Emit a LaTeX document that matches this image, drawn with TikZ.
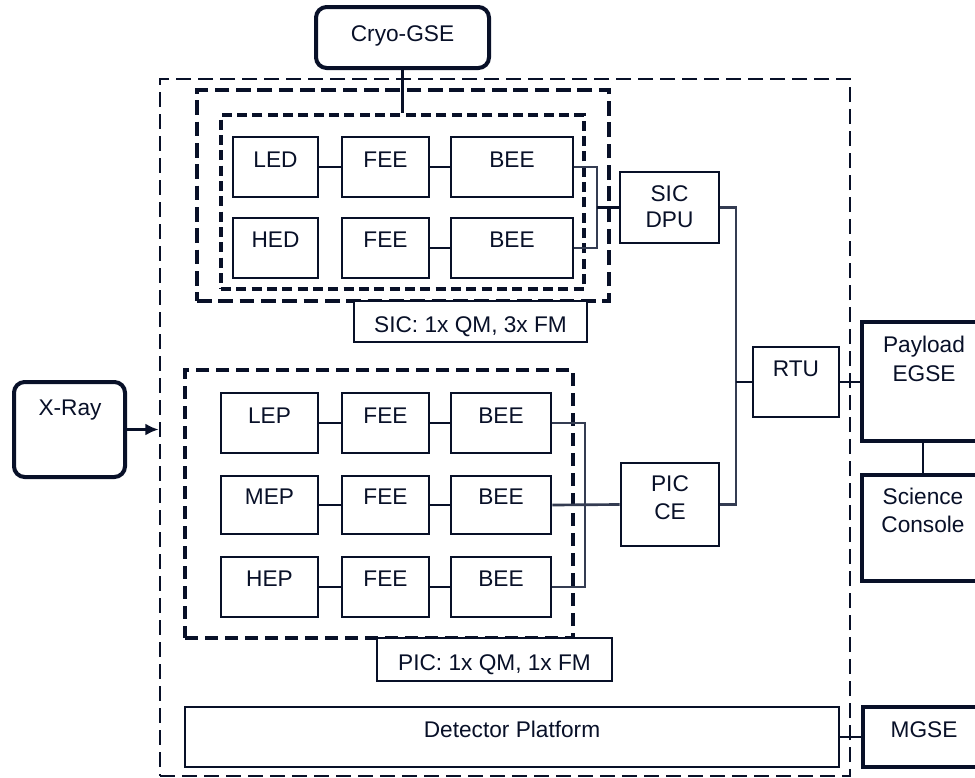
\documentclass[tikz,border=0pt]{standalone}
\usepackage{fontspec}
\setmainfont{Liberation Sans}
\usetikzlibrary{fit,arrows.meta}
\definecolor{ink}{RGB}{8,16,40}
\definecolor{wire}{RGB}{52,60,82}
\begin{document}
\begin{tikzpicture}[x=0.75pt,y=-0.75pt,
  box/.style={draw=ink, line width=2pt, inner sep=0pt, fit={#1}},
  gse/.style={draw=ink, line width=3.6pt, inner sep=0pt, fit={#1}},
  rgse/.style={draw=ink, line width=3pt, inner sep=0pt, rounded corners=8pt, fit={#1}},
  dbox/.style={draw=ink, line width=2pt, dash pattern=on 11pt off 5.5pt, inner sep=0pt, fit={#1}},
  dthick/.style={draw=ink, line width=3.6pt, dash pattern=on 11pt off 5pt, inner sep=0pt, fit={#1}},
  dinner/.style={draw=ink, line width=2.6pt, dash pattern=on 7.5pt off 4pt, inner sep=0pt, fit={#1}},
  dpic/.style={draw=ink, line width=2.4pt, dash pattern=on 10pt off 5pt, inner sep=0pt, fit={#1}},
  txt/.style={anchor=base, inner sep=0pt, text=ink, font=\fontsize{17}{20}\selectfont},
  conn/.style={draw=ink, line width=2.1pt},
  bus/.style={draw=wire, line width=2pt}]
\clip (0,0) rectangle (975,778);
\fill[white] (0,0) rectangle (975,778);

% containers
\node[dbox={(160,79) (850,776)}] (inst) {};
\node[dthick={(197,90) (609,301)}] (sico) {};
\node[dinner={(221,115) (584,289)}] (sici) {};
\node[dpic={(185,370) (573,638)}] (pic) {};

% Cryo-GSE
\node[rgse={(316,7) (489,68)}] (cryo) {};
\node[txt] (cryo-t) at (402.5,41) {Cryo-GSE};

% SIC rows
\node[box={(233,137) (318,197)}] (led) {};
\node[txt] (led-t) at (275.5,167) {LED};
\node[box={(342,137) (429,197)}] (sfee1) {};
\node[txt] (sfee1-t) at (385.5,167) {FEE};
\node[box={(451,137) (573,197)}] (sbee1) {};
\node[txt] (sbee1-t) at (512,167) {BEE};
\node[box={(233,218) (318,278)}] (hed) {};
\node[txt] (hed-t) at (275.5,247) {HED};
\node[box={(342,218) (429,278)}] (sfee2) {};
\node[txt] (sfee2-t) at (385.5,247) {FEE};
\node[box={(451,218) (573,278)}] (sbee2) {};
\node[txt] (sbee2-t) at (512,247) {BEE};

\node[box={(354,301) (587,342)}, fill=white] (siclab) {};
\node[txt] (siclab-t) at (470.5,332) {SIC: 1x QM, 3x FM};

\node[box={(620,172) (719,243)}] (sicdpu) {};
\node[txt] (sicdpu-t1) at (669.5,201) {SIC};
\node[txt] (sicdpu-t2) at (669.5,227) {DPU};

\node[box={(753,347) (839,417)}] (rtu) {};
\node[txt] (rtu-t) at (796,376) {RTU};

\node[gse={(862,322) (992,441)}] (payload) {};
\node[txt] (payload-t1) at (924,352) {Payload};
\node[txt] (payload-t2) at (924,381) {EGSE};

\node[gse={(862,475) (992,581)}] (sci) {};
\node[txt] (sci-t1) at (923,504) {Science};
\node[txt] (sci-t2) at (923,532) {Console};

% X-Ray
\node[rgse={(14,382) (125,477)}] (xray) {};
\node[txt] (xray-t) at (70,415) {X-Ray};

% PIC rows
\node[box={(221,393) (318,453)}] (lep) {};
\node[txt] (lep-t) at (269.5,423) {LEP};
\node[box={(342,393) (429,453)}] (pfee1) {};
\node[txt] (pfee1-t) at (385.5,423) {FEE};
\node[box={(451,393) (551,453)}] (pbee1) {};
\node[txt] (pbee1-t) at (501,423) {BEE};
\node[box={(221,476) (318,534)}] (mep) {};
\node[txt] (mep-t) at (269.5,504) {MEP};
\node[box={(342,476) (429,534)}] (pfee2) {};
\node[txt] (pfee2-t) at (385.5,504) {FEE};
\node[box={(451,476) (551,534)}] (pbee2) {};
\node[txt] (pbee2-t) at (501,504) {BEE};
\node[box={(221,557) (318,617)}] (hep) {};
\node[txt] (hep-t) at (269.5,586) {HEP};
\node[box={(342,557) (429,617)}] (pfee3) {};
\node[txt] (pfee3-t) at (385.5,586) {FEE};
\node[box={(451,557) (551,617)}] (pbee3) {};
\node[txt] (pbee3-t) at (501,586) {BEE};

\node[box={(377,638) (612,681)}, fill=white] (piclab) {};
\node[txt] (piclab-t) at (494.5,670) {PIC: 1x QM, 1x FM};

\node[box={(621,463) (719,546)}] (picce) {};
\node[txt] (picce-t1) at (670,491) {PIC};
\node[txt] (picce-t2) at (670,519) {CE};

\node[box={(185,707) (839,767)}] (det) {};
\node[txt] (det-t) at (512,737) {Detector Platform};

\node[gse={(863,707) (992,767)}] (mgse) {};
\node[txt] (mgse-t) at (924,737) {MGSE};

% helper coordinates
\coordinate (sbus) at (597,207.5);
\coordinate (rbus) at (736,382);
\coordinate (pbus) at (585,505);
\coordinate (pc) at (923,0);

% connectors
\draw[conn] (cryo.south) -- (cryo.south |- sici.north);
\draw[conn] (led.east) -- (sfee1.west);
\draw[conn] (sfee1.east) -- (sbee1.west);
\draw[conn] (sfee2.east) -- (sbee2.west);
\draw[bus] (sbee1.east) -| (sbus) |- (sbee2.east);
\draw[conn] (sbus) -- (sicdpu.west);
\draw[bus] (sicdpu.east) -| (rbus) |- (picce.east);
\draw[conn] (rbus) -- (rtu.west);
\draw[conn] (rtu.east) -- (payload.west |- rtu.east);
\draw[conn] (payload.south -| pc) -- (sci.north -| pc);

\draw[conn] (lep.east) -- (pfee1.west);
\draw[conn] (pfee1.east) -- (pbee1.west);
\draw[conn] (mep.east) -- (pfee2.west);
\draw[conn] (pfee2.east) -- (pbee2.west);
\draw[conn] (hep.east) -- (pfee3.west);
\draw[conn] (pfee3.east) -- (pbee3.west);
\draw[bus] (pbee1.east) -| (pbus) |- (pbee3.east);
\draw[bus] (pbee2.east) -- (picce.west);

\draw[conn] (det.east) -- (mgse.west |- det.east);
\draw[conn, -{Latex[length=10pt,width=9pt]}] (xray.east) -- (xray.east -| inst.west);
\end{tikzpicture}
\end{document}
